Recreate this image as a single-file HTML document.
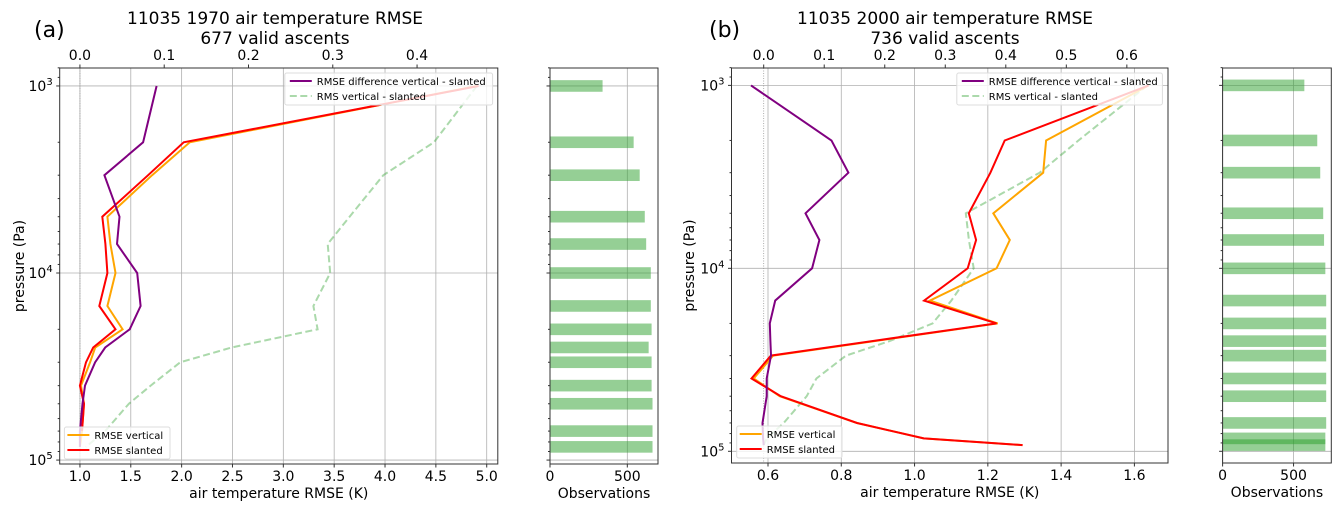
<!DOCTYPE html>
<html><head><meta charset="utf-8">
<style>
html,body{margin:0;padding:0;background:#fff;}
svg{display:block;font-family:"DejaVu Sans","Liberation Sans",sans-serif;}
</style></head>
<body>
<svg id="chart" width="1341" height="513" viewBox="0 0 1341 513" xmlns="http://www.w3.org/2000/svg"></svg>
<script>
// ---- Data: shared pressure levels (Pa)
const levelsA = [1000,2000,3000,5000,7000,10000,15000,20000,25000,30000,40000,50000,70000,85000];
const levelsB = [1000,2000,3000,5000,7000,10000,15000,20000,25000,30000,40000,50000,70000,85000,92500];
// Panel (a) 1970
const verticalA = [4.90,2.08,1.71,1.27,1.30,1.35,1.27,1.42,1.15,1.10,1.01,1.04,1.02,1.00];
const slantedA  = [4.92,2.02,1.67,1.22,1.25,1.27,1.19,1.35,1.13,1.06,1.00,1.04,1.02];
const diffA     = [0.091,0.075,0.029,0.047,0.044,0.068,0.072,0.059,0.030,0.018,0.006,0.003,0.000,0.000];
const rmsA      = [0.471,0.420,0.360,0.320,0.294,0.297,0.277,0.282,0.180,0.119,0.084,0.058,0.030,0.007];
const obsA      = [340,541,580,613,622,652,652,657,638,657,657,663,663,663];
// Panel (b) 2000
const verticalB = [1.639,1.359,1.351,1.215,1.260,1.224,1.042,1.227,0.890,0.614,0.561,0.632,0.843,1.025,1.295];
const slantedB  = [1.639,1.246,1.207,1.148,1.168,1.145,1.026,1.224,0.884,0.608,0.555,0.635,0.843,1.025,1.295];
const diffB     = [-0.021,0.112,0.140,0.069,0.092,0.080,0.019,0.010,0.011,0.012,0.005,0.005,-0.002,-0.001,0.000];
const rmsB      = [0.634,0.520,0.456,0.334,0.339,0.347,0.310,0.279,0.208,0.136,0.087,0.071,0.033,0.005,0.000];
const obsB      = [576,667,688,709,715,724,730,730,730,730,730,730,730,724,724];
// Tick labels
const bottomTicksA = [1.0,1.5,2.0,2.5,3.0,3.5,4.0,4.5,5.0];
const topTicksA = [0.0,0.1,0.2,0.3,0.4];
const bottomTicksB = [0.6,0.8,1.0,1.2,1.4,1.6];
const topTicksB = [0.0,0.1,0.2,0.3,0.4,0.5,0.6];
const obsTicks = [0,500];

const NS="http://www.w3.org/2000/svg";
const svg=document.getElementById('chart');
function mk(tag,attrs,parent,name,inter){
  const e=document.createElementNS(NS,tag);
  for(const k in attrs) e.setAttribute(k,attrs[k]);
  
  
  (parent||svg).appendChild(e);return e;
}

function panel(P){
  const g=mk('g',{},svg,P.id+'-panel',false);
  const L=P.left,R=P.right,T=68,B=P.bottom;
  const xs=v=>L+(v-P.bx[0])/(P.bx[1]-P.bx[0])*(R-L);
  const xt=v=>L+(v-P.tx[0])/(P.tx[1]-P.tx[0])*(R-L);
  const ys=p=>T+(Math.log10(p)-P.ly[0])/(P.ly[1]-P.ly[0])*(B-T);
  const xo=v=>P.oL+v/P.oMax*(P.oR-P.oL);
  // grid
  P.bottomTicks.forEach(t=>{mk('line',{x1:xs(t),x2:xs(t),y1:T,y2:B,stroke:'#b0b0b0','stroke-width':0.8},g,'x-gridline',false);});
  [1000,10000,100000].forEach(p=>{
    mk('line',{x1:L,x2:R,y1:ys(p),y2:ys(p),stroke:'#b0b0b0','stroke-width':0.8},g,'y-gridline',false);
    mk('line',{x1:P.oL,x2:P.oR,y1:ys(p),y2:ys(p),stroke:'#b0b0b0','stroke-width':0.8},g,'obs-y-gridline',false);
  });
  obsTicks.forEach(t=>{mk('line',{x1:xo(t),x2:xo(t),y1:T,y2:B,stroke:'#b0b0b0','stroke-width':0.8},g,'obs-x-gridline',false);});
  mk('line',{x1:xt(0),x2:xt(0),y1:T,y2:B,stroke:'#999','stroke-width':0.8,'stroke-dasharray':'1,1.5'},g,'zero-line',false);
  // series
  const pts=(vals,lv,fx)=>vals.map((v,i)=>fx(v).toFixed(1)+','+ys(lv[i]).toFixed(1)).join(' ');
  mk('polyline',{points:pts(P.rms,P.levels,xt),fill:'none',stroke:'#2ca02c','stroke-opacity':0.4,'stroke-width':2,'stroke-dasharray':'7,3.5'},g,'rms-vertical-slanted-line',false);
  mk('polyline',{points:pts(P.vertical,P.levels,xs),fill:'none',stroke:'#FFA500','stroke-width':2},g,'rmse-vertical-line',false);
  mk('polyline',{points:pts(P.slanted,P.levels,xs),fill:'none',stroke:'#FF0000','stroke-width':2},g,'rmse-slanted-line',false);
  mk('polyline',{points:pts(P.diff,P.levels,xt),fill:'none',stroke:'#800080','stroke-width':2},g,'rmse-difference-line',false);
  // bars
  P.obs.forEach((v,i)=>{mk('rect',{x:xo(0),y:ys(P.levels[i])-5.8,width:xo(v)-xo(0),height:11.6,fill:'#2ca02c','fill-opacity':0.5},g,'obs-bar',false);});
  // spines
  mk('rect',{x:L,y:T,width:R-L,height:B-T,fill:'none',stroke:'#333','stroke-width':1},g,'main-axes-frame',false);
  mk('rect',{x:P.oL,y:T,width:P.oR-P.oL,height:B-T,fill:'none',stroke:'#333','stroke-width':1},g,'obs-axes-frame',false);
  // ticks
  P.bottomTicks.forEach(t=>{
    mk('line',{x1:xs(t),x2:xs(t),y1:B,y2:B+3.5,stroke:'#333'},g,'x-tick',false);
    const tx=mk('text',{x:xs(t),y:B+17,'text-anchor':'middle','font-size':14},g,'x-tick-label',false);tx.textContent=t.toFixed(1);
  });
  P.topTicks.forEach(t=>{
    mk('line',{x1:xt(t),x2:xt(t),y1:T,y2:T-3.5,stroke:'#333'},g,'top-tick',false);
    const tx=mk('text',{x:xt(t),y:T-8,'text-anchor':'middle','font-size':14},g,'top-tick-label',false);tx.textContent=t.toFixed(1);
  });
  obsTicks.forEach(t=>{
    mk('line',{x1:xo(t),x2:xo(t),y1:B,y2:B+3.5,stroke:'#333'},g,'obs-x-tick',false);
    const tx=mk('text',{x:xo(t),y:B+17,'text-anchor':'middle','font-size':14},g,'obs-tick-label',false);tx.textContent=t;
  });
  for(let d=2;d<=5;d++){
    for(let m=1;m<=9;m++){
      const p=m*Math.pow(10,d);const y=ys(p);
      if(y<T-0.5||y>B+0.5) continue;
      const len=m===1?3.5:2;
      mk('line',{x1:L,x2:L-len,y1:y,y2:y,stroke:'#333'},g,'y-tick',false);
      mk('line',{x1:P.oL,x2:P.oL-len,y1:y,y2:y,stroke:'#333'},g,'obs-y-tick',false);
      if(m===1){
        const tx=mk('text',{x:L-7,y:y+5,'text-anchor':'end','font-size':14},g,'y-tick-label',false);
        tx.innerHTML='10<tspan dy="-6" font-size="10">'+d+'</tspan>';
      }
    }
  }
  // labels
  let t;
  t=mk('text',{x:(L+R)/2,y:B+34,'text-anchor':'middle','font-size':14},g,'x-axis-title',false);t.textContent='air temperature RMSE (K)';
  t=mk('text',{x:(P.oL+P.oR)/2,y:B+34,'text-anchor':'middle','font-size':14},g,'obs-axis-title',false);t.textContent='Observations';
  t=mk('text',{x:0,y:0,'text-anchor':'middle','font-size':14,transform:'translate('+(P.ylabX)+','+((T+B)/2)+') rotate(-90)'},g,'y-axis-title',false);t.textContent='pressure (Pa)';
  t=mk('text',{x:P.titleX,y:24,'text-anchor':'middle','font-size':17},g,'chart-title',false);t.textContent=P.title1;
  t=mk('text',{x:P.titleX,y:44,'text-anchor':'middle','font-size':17},g,'chart-subtitle',false);t.textContent=P.title2;
  t=mk('text',{x:P.tagX,y:37,'font-size':22},g,'panel-label',false);t.textContent=P.tag;
  // legends
  const lg=mk('g',{},g,'legend-upper',false);
  mk('rect',{x:P.lu[0],y:73,width:P.lu[1]-P.lu[0],height:32,rx:2,fill:'#fff','fill-opacity':0.8,stroke:'#ddd'},lg,'legend-box',false);
  mk('line',{x1:P.lu[0]+5,x2:P.lu[0]+27,y1:81,y2:81,stroke:'#800080','stroke-width':2},lg,'legend-swatch-diff',false);
  t=mk('text',{x:P.lu[0]+32,y:85,'font-size':10},lg,'legend-entry-diff',false);t.textContent='RMSE difference vertical - slanted';
  mk('line',{x1:P.lu[0]+5,x2:P.lu[0]+27,y1:96,y2:96,stroke:'#2ca02c','stroke-opacity':0.4,'stroke-width':2,'stroke-dasharray':'7,3.5'},lg,'legend-swatch-rms',false);
  t=mk('text',{x:P.lu[0]+32,y:100,'font-size':10},lg,'legend-entry-rms',false);t.textContent='RMS vertical - slanted';
  const ll=mk('g',{},g,'legend-lower',false);
  mk('rect',{x:P.ll[0],y:P.ll[2],width:P.ll[1]-P.ll[0],height:32,rx:2,fill:'#fff','fill-opacity':0.8,stroke:'#ddd'},ll,'legend-box',false);
  mk('line',{x1:P.ll[0]+3,x2:P.ll[0]+25,y1:P.ll[2]+8,y2:P.ll[2]+8,stroke:'#FFA500','stroke-width':2},ll,'legend-swatch-vertical',false);
  t=mk('text',{x:P.ll[0]+30,y:P.ll[2]+12,'font-size':10},ll,'legend-entry-vertical',false);t.textContent='RMSE vertical';
  mk('line',{x1:P.ll[0]+3,x2:P.ll[0]+25,y1:P.ll[2]+23,y2:P.ll[2]+23,stroke:'#FF0000','stroke-width':2},ll,'legend-swatch-slanted',false);
  t=mk('text',{x:P.ll[0]+30,y:P.ll[2]+27,'font-size':10},ll,'legend-entry-slanted',false);t.textContent='RMSE slanted';
}

panel({id:'a',left:59.7,right:497.8,bottom:464,bx:[0.801,5.109],tx:[-0.024,0.4958],ly:[2.904,5.021],
  oL:550,oR:658,oMax:698.5,levels:levelsA,vertical:verticalA,slanted:slantedA,diff:diffA,rms:rmsA,obs:obsA,
  bottomTicks:bottomTicksA,topTicks:topTicksA,title1:'11035 1970 air temperature RMSE',title2:'677 valid ascents',
  titleX:275,tagX:34,tag:'(a)',ylabX:24,lu:[284.8,492.6],ll:[64.4,170,427]});
panel({id:'b',left:731.5,right:1168,bottom:463,bx:[0.5004,1.6917],tx:[-0.0532,0.668],ly:[2.905,5.064],
  oL:1222.6,oR:1331.3,oMax:766,levels:levelsB,vertical:verticalB,slanted:slantedB,diff:diffB,rms:rmsB,obs:obsB,
  bottomTicks:bottomTicksB,topTicks:topTicksB,title1:'11035 2000 air temperature RMSE',title2:'736 valid ascents',
  titleX:945,tagX:709,tag:'(b)',ylabX:694,lu:[956.8,1162.4],ll:[736.7,842,426]});
</script>
</body></html>
